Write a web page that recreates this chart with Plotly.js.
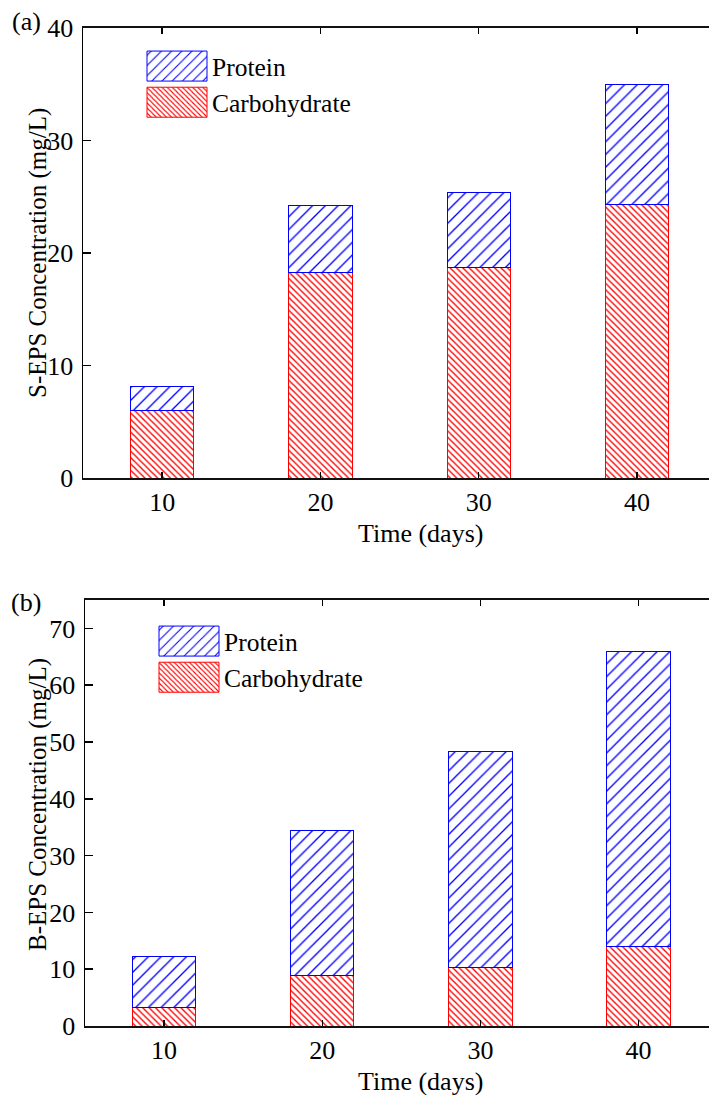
<!DOCTYPE html>
<html>
<head>
<meta charset="utf-8">
<script src="https://cdn.plot.ly/plotly-3.0.1.min.js"></script>
<style>html,body{margin:0;padding:0;background:#fff;}#chart{width:709px;height:1095px;}</style>
</head>
<body>
<div id="chart"></div>
<script>
// ---- data ----
var days = [10, 20, 30, 40];
var sepsCarbohydrate = [6.0, 18.3, 18.7, 24.3];
var sepsProtein = [2.1, 5.9, 6.7, 10.7];
var bepsCarbohydrate = [3.3, 8.9, 10.3, 14.0];
var bepsProtein = [9.0, 25.5, 38.1, 52.0];
var seriesNames = ['Carbohydrate', 'Protein'];
var xTickVals = [10, 20, 30, 40];
var yTicksA = [0, 10, 20, 30, 40];
var yTicksB = [0, 10, 20, 30, 40, 50, 60, 70];

var W = 709, H = 1095;
var FONT = '"Liberation Serif", "Times New Roman", serif';

function carbStyle() {
  return {color: 'white', line: {color: 'red', width: 1},
          pattern: {shape: '\\', fgcolor: 'red', bgcolor: 'white', size: 4.5, solidity: 0.3}};
}
function protStyle() {
  return {color: 'white', line: {color: 'blue', width: 1},
          pattern: {shape: '/', fgcolor: 'blue', bgcolor: 'white', size: 9, solidity: 0.15}};
}

var data = [
  {type: 'bar', x: days, y: sepsCarbohydrate, name: seriesNames[0], width: 4,
   marker: carbStyle(), xaxis: 'x', yaxis: 'y', legend: 'legend'},
  {type: 'bar', x: days, y: sepsProtein, name: seriesNames[1], width: 4,
   marker: protStyle(), xaxis: 'x', yaxis: 'y', legend: 'legend'},
  {type: 'bar', x: days, y: bepsCarbohydrate, name: seriesNames[0], width: 4,
   marker: carbStyle(), xaxis: 'x2', yaxis: 'y2', legend: 'legend2'},
  {type: 'bar', x: days, y: bepsProtein, name: seriesNames[1], width: 4,
   marker: protStyle(), xaxis: 'x2', yaxis: 'y2', legend: 'legend2'}
];

function xAxis(dom, rng, anchor) {
  return {domain: dom, range: rng, anchor: anchor, tickvals: xTickVals,
    ticks: 'inside', ticklen: 6, tickwidth: 1.5, tickcolor: '#000',
    showline: true, linecolor: '#111', linewidth: 2, mirror: 'ticks',
    showgrid: false, zeroline: false,
    tickfont: {family: FONT, size: 26, color: '#000'}, ticklabelstandoff: 0};
}
function yAxis(dom, rng, ticks, anchor) {
  return {domain: dom, range: rng, anchor: anchor, tickvals: ticks,
    ticks: 'inside', ticklen: 8, tickwidth: 1.5, tickcolor: '#000',
    showline: true, linecolor: '#000', linewidth: 1.5, mirror: false,
    showgrid: false, zeroline: false,
    tickfont: {family: FONT, size: 26, color: '#000'}, ticklabelstandoff: 3};
}

var ann = function (txt, px, py, extra) {
  var a = {text: txt, xref: 'paper', yref: 'paper', x: px / W, y: 1 - py / H,
    showarrow: false, font: {family: FONT, size: 26, color: '#000'},
    xanchor: 'center', yanchor: 'middle'};
  for (var k in extra) a[k] = extra[k];
  return a;
};

var legendBase = function (px, py) {
  return {x: px / W, y: 1 - py / H, xanchor: 'left', yanchor: 'top',
    traceorder: 'reversed', bgcolor: 'rgba(0,0,0,0)', borderwidth: 0,
    font: {family: FONT, size: 25.5, color: '#000'}, itemwidth: 60,
    itemclick: false, itemdoubleclick: false, tracegroupgap: 0};
};

var layout = {
  width: W, height: H,
  margin: {l: 0, r: 0, t: 0, b: 0},
  paper_bgcolor: '#fff', plot_bgcolor: '#fff',
  barmode: 'stack',
  showlegend: true,
  xaxis: xAxis([83 / W, 1], [5, 44.55], 'y'),
  yaxis: yAxis([1 - 478 / H, 1 - 28 / H], [0, 40], yTicksA, 'x'),
  xaxis2: xAxis([85 / W, 1], [5, 44.45], 'y2'),
  yaxis2: yAxis([1 - 1026 / H, 1 - 600 / H], [0, 75], yTicksB, 'x2'),
  legend: legendBase(142, 43),
  legend2: legendBase(154, 618),
  annotations: [
    ann('(a)', 26, 21, {}),
    ann('(b)', 26, 602, {}),
    ann('Time (days)', 420, 533, {}),
    ann('Time (days)', 420, 1081, {}),
    ann('S-EPS Concentration (mg/L)', 38, 253, {textangle: -90, font: {family: FONT, size: 25, color: '#000'}}),
    ann('B-EPS Concentration (mg/L)', 38, 805, {textangle: -90, font: {family: FONT, size: 25, color: '#000'}})
  ]
};

Plotly.newPlot('chart', data, layout, {staticPlot: true, displayModeBar: false}).then(function (gd) {
  // enlarge legend swatches to match the reference's wide hatched boxes
  var pts = gd.querySelectorAll('.legendpoints path');
  pts.forEach(function (p) { p.setAttribute('d', 'M30,15H-30V-15H30Z'); });
});
</script>
</body>
</html>
